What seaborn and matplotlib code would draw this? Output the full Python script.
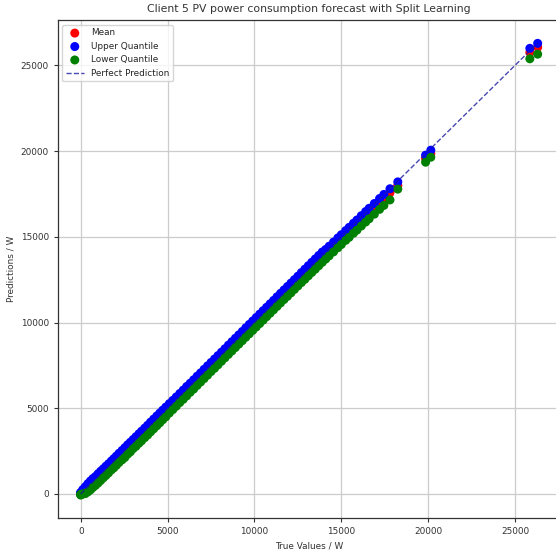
import matplotlib
matplotlib.use("Agg")
import matplotlib.pyplot as plt
import seaborn as sns
import pandas as pd

true_vals = [0, 0, 0, 120, 260, 410, 560, 700, 850, 1000, 1150, 1300, 1450, 1600, 1760,
             1900, 2050, 2200, 2380, 2540, 2700, 2860, 3020, 3180, 3350, 3500, 3680, 3850,
             4020, 4200, 4380, 4550, 4720, 4900, 5100, 5300, 5500, 5700, 5900, 6100, 6300,
             6500, 6700, 6900, 7100, 7300, 7500, 7700, 7900, 8100, 8300, 8500, 8700, 8900,
             9100, 9300, 9500, 9700, 9900, 10100, 10300, 10500, 10700, 10900, 11100, 11300,
             11500, 11700, 11900, 12100, 12300, 12500, 12700, 12900, 13100, 13300, 13500,
             13700, 13900, 14100, 14300, 14550, 14800, 15000, 15250, 15450, 15700, 15900,
             16150, 16400, 16600, 16900, 17200, 17450, 17800, 18250, 19850, 20150, 25850, 26300]

mean_pred = [10, 30, -10, 140, 250, 420, 540, 690, 830, 990, 1130, 1290, 1440, 1580, 1750,
             1880, 2030, 2190, 2360, 2520, 2690, 2840, 3000, 3160, 3330, 3480, 3660, 3830,
             4000, 4180, 4360, 4530, 4700, 4880, 5080, 5280, 5480, 5680, 5880, 6080, 6280,
             6480, 6680, 6880, 7080, 7280, 7480, 7680, 7880, 8080, 8280, 8480, 8680, 8880,
             9080, 9280, 9480, 9680, 9880, 10080, 10280, 10480, 10680, 10880, 11080, 11280,
             11480, 11680, 11880, 12080, 12280, 12480, 12680, 12880, 13080, 13280, 13480,
             13680, 13880, 14040, 14230, 14470, 14710, 14900, 15140, 15330, 15570, 15760,
             16000, 16240, 16430, 16710, 17000, 17240, 17570, 17990, 19560, 19850, 25750, 26050]

upper_pred = [60, 90, 40, 260, 420, 600, 760, 900, 1020, 1180, 1330, 1470, 1620, 1760, 1920,
              2060, 2210, 2370, 2540, 2700, 2870, 3020, 3180, 3340, 3510, 3660, 3840, 4010,
              4190, 4370, 4550, 4720, 4890, 5070, 5270, 5460, 5660, 5860, 6060, 6270, 6460,
              6660, 6870, 7060, 7270, 7470, 7670, 7870, 8070, 8270, 8470, 8680, 8880, 9080,
              9280, 9480, 9690, 9890, 10090, 10290, 10490, 10690, 10890, 11090, 11290, 11500,
              11700, 11900, 12100, 12300, 12500, 12700, 12910, 13110, 13310, 13510, 13710,
              13910, 14110, 14260, 14450, 14690, 14930, 15120, 15360, 15550, 15790, 15980,
              16230, 16470, 16660, 16940, 17230, 17470, 17800, 18200, 19760, 20050, 25990, 26280]

lower_pred = [-40, -20, -60, 0, 20, 120, 240, 380, 500, 640, 790, 940, 1080, 1230, 1400,
              1520, 1670, 1830, 1990, 2130, 2320, 2460, 2650, 2780, 2960, 3100, 3280, 3440,
              3620, 3800, 3980, 4150, 4330, 4500, 4720, 4920, 5120, 5330, 5520, 5720, 5930,
              6120, 6330, 6530, 6730, 6930, 7140, 7330, 7530, 7740, 7940, 8140, 8340, 8540,
              8740, 8940, 9140, 9340, 9540, 9740, 9940, 10140, 10340, 10540, 10740, 10940,
              11140, 11340, 11530, 11730, 11930, 12130, 12330, 12520, 12720, 12920, 13110,
              13310, 13510, 13700, 13890, 14120, 14360, 14550, 14790, 14970, 15210, 15390,
              15630, 15860, 16050, 16320, 16600, 16830, 17150, 17780, 19350, 19640, 25380, 25650]

series_labels = ["Mean", "Upper Quantile", "Lower Quantile"]
line_label = "Perfect Prediction"
title = "Client 5 PV power consumption forecast with Split Learning"
x_label = "True Values / W"
y_label = "Predictions / W"

df = pd.DataFrame({"true": true_vals, "mean": mean_pred,
                   "upper": upper_pred, "lower": lower_pred})

sns.set_style("ticks")
plt.rcParams["font.family"] = ["DejaVu Sans"]

fig = plt.figure(figsize=(5.56, 5.52), dpi=100)
ax = fig.add_axes([0.1041, 0.0623, 0.904, 0.9007])

for col, color, lab in zip(["mean", "upper", "lower"], ["red", "blue", "green"], series_labels):
    sns.scatterplot(data=df, x="true", y=col, color=color, s=42, edgecolor="none",
                    label=lab, ax=ax, zorder=3)

lo, hi = min(true_vals), max(true_vals)
sns.lineplot(x=[lo, hi], y=[lo, hi], color="#1a1aa0", linestyle="--", linewidth=1.0,
             alpha=0.8, label=line_label, ax=ax, zorder=5)

ax.grid(True, color="#cccccc", linewidth=0.9)
ax.set_axisbelow(True)
for sp in ax.spines.values():
    sp.set_color("#333333")
    sp.set_linewidth(0.9)
ax.tick_params(labelsize=6.4, colors="#333333", length=3)
ax.set_xticks([0, 5000, 10000, 15000, 20000, 25000])
ax.set_yticks([0, 5000, 10000, 15000, 20000, 25000])
ax.set_xlabel(x_label, fontsize=6.4, color="#333333")
ax.set_ylabel(y_label, fontsize=6.4, color="#333333")
ax.set_title(title, fontsize=7.8, color="#333333")
ax.legend(loc="upper left", fontsize=6.4, frameon=True)

fig.savefig("out.png", dpi=100)
